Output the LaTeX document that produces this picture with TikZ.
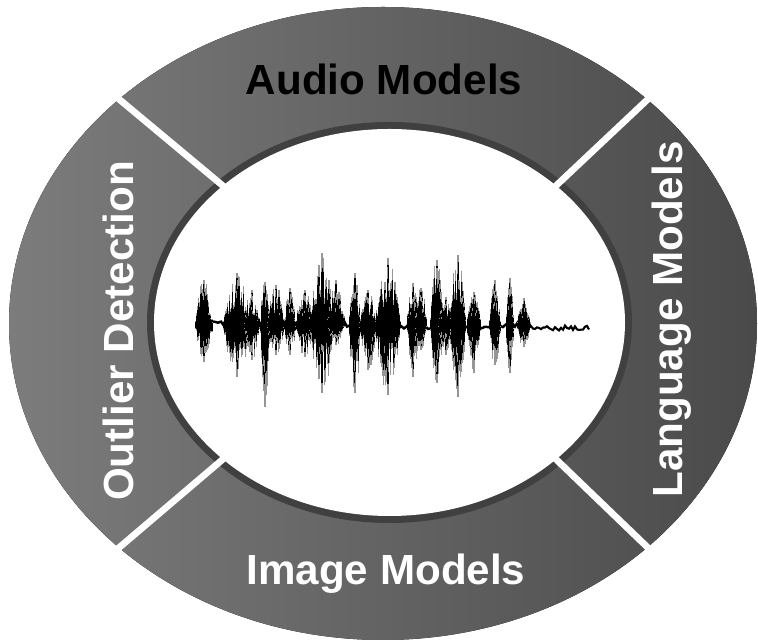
\documentclass[tikz,border=0pt]{standalone}
\usepackage{fontspec}
\setmainfont{Liberation Sans}
\usetikzlibrary{calc}
\definecolor{ringlight}{RGB}{124,124,124}
\definecolor{ringdark}{RGB}{74,74,74}
\definecolor{rimgray}{RGB}{64,64,64}
\definecolor{wavefringe}{RGB}{150,150,150}

\begin{document}
\begin{tikzpicture}[x=0.02cm, y=0.02cm,
    segtext/.style={font=\fontsize{24}{28}\selectfont\bfseries, inner sep=0pt, anchor=base},
    divider/.style={white, line width=3.8pt},
    fringe/.style={wavefringe, line width=0.6pt},
    wave/.style={black, line width=0.6pt}]
  \useasboundingbox (0,0) rectangle (758,642);
  \coordinate (oc) at (383,318.5);
  \coordinate (ic) at (389.5,319.5);
  \fill[left color=ringlight, right color=ringdark] (oc) ellipse (374 and 316.5);
  \fill[rimgray] (ic) ellipse (242.5 and 200.5);
  \fill[white] (ic) ellipse (235.5 and 193.5);
  \foreach \a in {45,135,225,315} {
    \coordinate (i\a) at ($(ic)+(\a:234 and 192)$);
    \coordinate (o\a) at ($(oc)+(\a:385 and 327)$);
    \draw[divider] (i\a) -- (o\a);
  }
  \node[segtext] (audio) at (384,547) {Audio Models};
  \node[segtext, white] (image) at (386,57) {Image Models};
  \node[segtext, white, rotate=90] (outlier) at (133,311) {Outlier Detection};
  \node[segtext, white, rotate=90] (language) at (682,322.5) {Language Models};
  \pgfmathsetseed{42}
  \draw[wave, line width=1.4pt] (200,317) \foreach \k in {203,206,...,530} { -- (\k,317+4*rand) };
  \draw[wave, line width=1.2pt] (530,317) \foreach \k in {533,535,...,589} { -- (\k,314+2.5*rand) };
  \foreach \bx/\bw/\bu/\bd in {204/9/45/37, 237/14/52/52, 252/8/35/35, 265/5/43/82,
      276/9/40/30, 290/6/37/30, 305/10/35/32, 322/13/72/68, 336/9/45/20, 355/6/52/68,
      368/9/35/45, 388/13/67/70, 413/6/42/52, 421/6/37/25, 437/7/65/58, 446/8/28/30,
      458/8/70/72, 474/7/33/48, 495/6/45/40, 510/4/47/48, 524/7/27/22} {
    \draw[fringe] (\bx,317+\bu) -- (\bx,317-\bd);
    \draw[wave] (\bx,317+0.9*\bu) -- (\bx,317-0.85*\bd);
    \foreach \tp in {-1,-0.93,...,1} {
      \pgfmathsetmacro\xx{\bx+\bw*\tp}
      \pgfmathsetmacro\env{1-\tp*\tp}
      \pgfmathsetmacro\hu{\bu*\env*(0.35+0.65*rnd)}
      \pgfmathsetmacro\hd{\bd*\env*(0.35+0.65*rnd)}
      \draw[fringe] (\xx,317+\hu) -- (\xx,317-\hd);
      \draw[wave] (\xx,317+0.8*\hu) -- (\xx,317-0.75*\hd);
    }
  }
\end{tikzpicture}
\end{document}
